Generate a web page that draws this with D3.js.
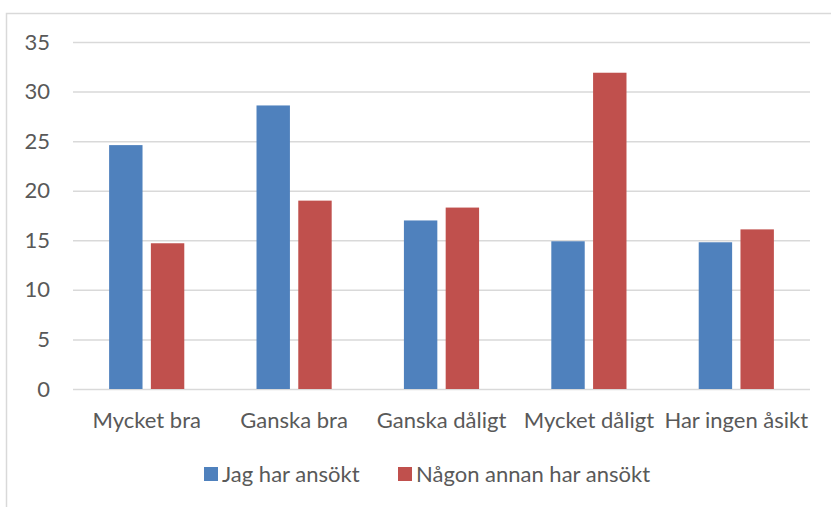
<!DOCTYPE html>
<html><head><meta charset="utf-8">
<script src="https://cdn.jsdelivr.net/npm/d3@7"></script>
<style>body{margin:0;background:#fff}svg{display:block}text{font-family:Lato,"Open Sans",sans-serif;fill:#595959}</style>
</head><body><svg id="c" width="831" height="507"></svg>
<script>
const categories = ["Mycket bra","Ganska bra","Ganska dåligt","Mycket dåligt","Har ingen åsikt"];
const seriesNames = ["Jag har ansökt","Någon annan har ansökt"];
const jagHarAnsokt = [24.6,28.6,17.0,14.9,14.8];
const nagonAnnan = [14.7,19.0,18.3,31.9,16.1];
const yTicks = [0,5,10,15,20,25,30,35];
const colors = ["#4F81BD","#C0504D"];

const svg = d3.select("#c");
svg.append("path").attr("d","M6.5,507 V13.5 H831").attr("fill","none").attr("stroke","#d9d9d9").attr("stroke-width",1.5);

const y = d3.scaleLinear().domain([0,35]).range([389,42]);
const x0 = d3.scaleBand().domain(categories).range([73,810]).paddingInner(0.49).paddingOuter(0.245);
const x1 = d3.scaleBand().domain(seriesNames).range([0,x0.bandwidth()]).paddingInner(0.2);

const grid = svg.append("g").attr("transform","translate(73,0)")
  .call(d3.axisLeft(y).tickValues(yTicks).tickSize(-737).tickFormat(d=>d).tickPadding(23));
grid.select(".domain").remove();
grid.selectAll(".tick line").attr("stroke","#d9d9d9").attr("stroke-width",1.5);
grid.selectAll(".tick text").attr("font-size",22).style("font-family","Lato,'Open Sans',sans-serif").attr("fill","#595959");

const data = categories.map((c,i)=>({c, vals:[jagHarAnsokt[i], nagonAnnan[i]]}));
const g = svg.append("g");
data.forEach(d=>{
  d.vals.forEach((v,j)=>{
    g.append("rect").attr("x",x0(d.c)+x1(seriesNames[j])).attr("y",y(v))
      .attr("width",x1.bandwidth()).attr("height",y(0)-y(v)).attr("fill",colors[j]);
  });
});

const xa = svg.append("g").attr("transform","translate(0,389)")
  .call(d3.axisBottom(x0).tickSize(0).tickPadding(23));
xa.select(".domain").remove();
xa.selectAll(".tick text").attr("font-size",22).style("font-family","Lato,'Open Sans',sans-serif").attr("fill","#595959");

const legX = [204,398];
seriesNames.forEach((s,j)=>{
  svg.append("rect").attr("x",legX[j]).attr("y",467).attr("width",14).attr("height",14).attr("fill",colors[j]);
  svg.append("text").attr("x",legX[j]+18).attr("y",482).attr("font-size",22).text(s);
});
</script></body></html>
